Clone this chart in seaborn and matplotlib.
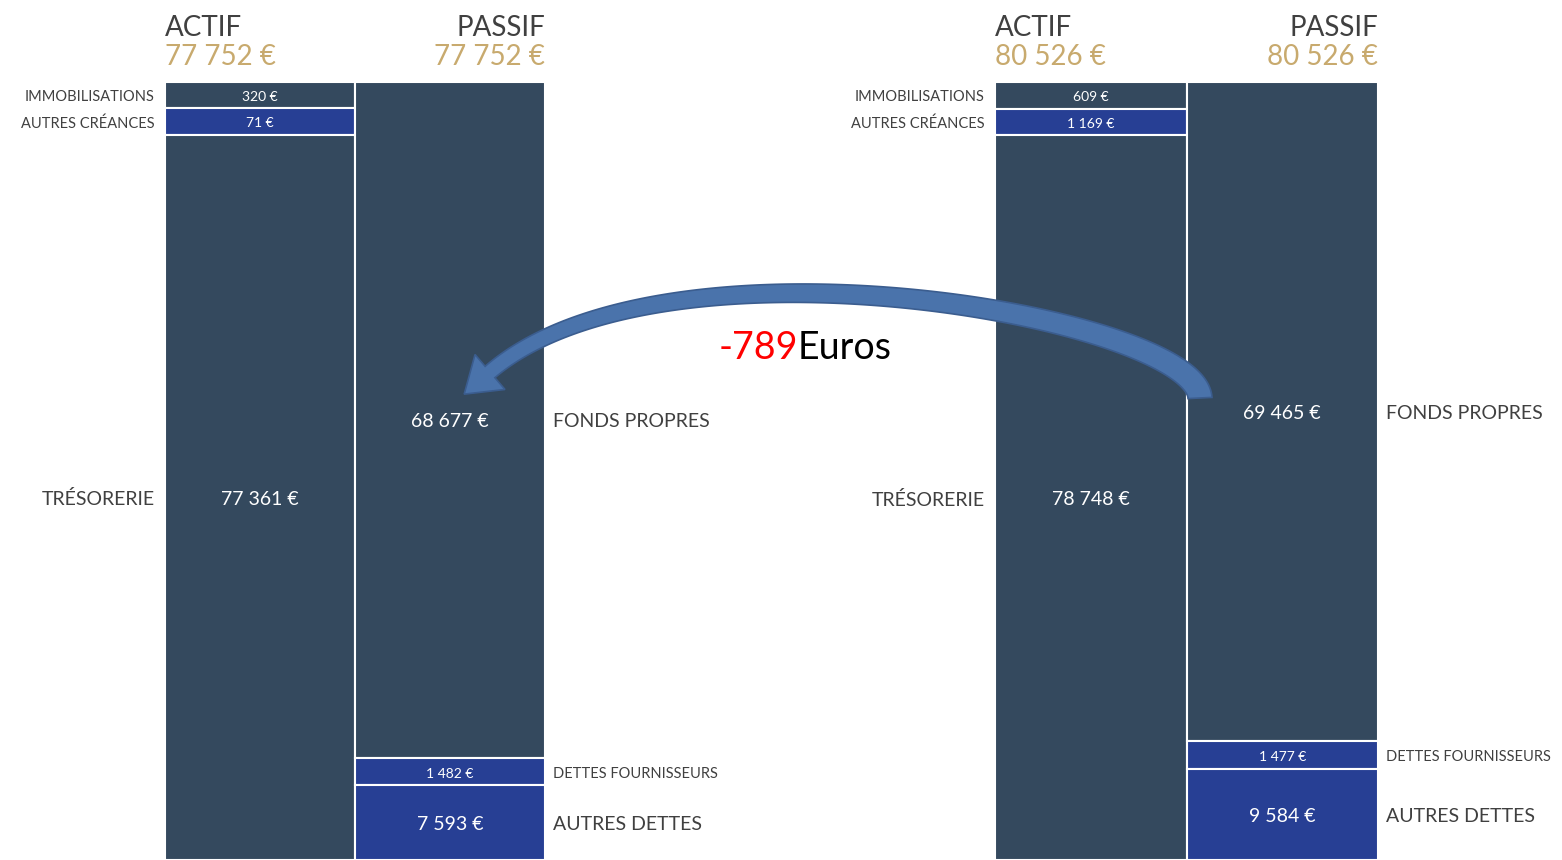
import matplotlib
matplotlib.use("Agg")
import numpy as np
import matplotlib.pyplot as plt
import seaborn as sns

# ---------------- data ----------------
actif_labels = ["IMMOBILISATIONS", "AUTRES CRÉANCES", "TRÉSORERIE"]
passif_labels = ["FONDS PROPRES", "DETTES FOURNISSEURS", "AUTRES DETTES"]
actif_left = [320, 71, 77361]
passif_left = [68677, 1482, 7593]
actif_right = [609, 1169, 78748]
passif_right = [69465, 1477, 9584]
totals = [77752, 80526]
variation = -789

# ---------------- style ----------------
sns.set_theme(style="white")
plt.rcParams['font.family'] = ['Lato', 'DejaVu Sans']

DARK = "#34495e"
BLUE = "#273f94"
GOLD = "#c8aa6e"
GREY = "#404040"
actif_colors = [DARK, BLUE, DARK]
passif_colors = [DARK, BLUE, BLUE]

W, H = 1562, 860
TOP, BOTTOM = 82, 860
SPAN = BOTTOM - TOP
FLOOR = 0.036  # minimum displayed share for tiny items
DY = 2  # small optical offset for text centring

fig = plt.figure(figsize=(W / 100, H / 100), dpi=100)
ax = fig.add_axes([0, 0, 1, 1])
ax.set_xlim(0, W)
ax.set_ylim(H, 0)
ax.axis("off")


def fmt(v):
    return f"{v:,}".replace(",", " ") + " €"


def display_heights(values):
    tot = sum(values)
    shares = [max(v / tot, FLOOR) for v in values]
    s = sum(shares)
    return [sh / s * SPAN for sh in shares], [v / tot < FLOOR for v in values]


def draw_column(xc, width, values, labels, colors, side):
    heights, small = display_heights(values)
    bottom = TOP
    for v, h, lab, col, sm in zip(values, heights, labels, colors, small):
        ax.bar(xc, h, bottom=bottom, width=width, color=col,
               edgecolor="white", linewidth=1.5, align="center", zorder=2)
        yc = bottom + h / 2 + DY
        ax.text(xc, yc, fmt(v), color="white", ha="center", va="center",
                fontsize=10 if sm else 14, zorder=3)
        if side == "left":
            ax.text(xc - width / 2 - 10, yc, lab, color=GREY, ha="right",
                    va="center", fontsize=10.5 if sm else 14)
        else:
            ax.text(xc + width / 2 + 8, yc, lab, color=GREY, ha="left",
                    va="center", fontsize=10.5 if sm else 14)
        bottom += h


def draw_sheet(x0, width, actif, passif, total):
    draw_column(x0 + width / 2, width, actif, actif_labels, actif_colors, "left")
    draw_column(x0 + width * 1.5, width, passif, passif_labels, passif_colors, "right")
    ax.text(x0, 36, "ACTIF", color=GREY, fontsize=20, ha="left", va="baseline")
    ax.text(x0 + 2 * width, 36, "PASSIF", color=GREY, fontsize=20, ha="right", va="baseline")
    ax.text(x0, 65, fmt(total), color=GOLD, fontsize=20, ha="left", va="baseline")
    ax.text(x0 + 2 * width, 65, fmt(total), color=GOLD, fontsize=20, ha="right", va="baseline")


draw_sheet(165, 190, actif_left, passif_left, totals[0])
draw_sheet(995, 191.5, actif_right, passif_right, totals[1])

# ---------------- curved tapered arrow ----------------
P = np.array([(1200, 398), (1196, 318), (665, 222), (490, 372)], dtype=float)
t = np.linspace(0, 1, 160)[:, None]
B = ((1 - t) ** 3) * P[0] + 3 * ((1 - t) ** 2) * t * P[1] + 3 * (1 - t) * t ** 2 * P[2] + t ** 3 * P[3]
dB = 3 * ((1 - t) ** 2) * (P[1] - P[0]) + 6 * (1 - t) * t * (P[2] - P[1]) + 3 * t ** 2 * (P[3] - P[2])
T = dB / np.linalg.norm(dB, axis=1, keepdims=True)
N = np.column_stack([-T[:, 1], T[:, 0]])
w = (24 - 9 * t[:, 0])[:, None]
left = B + N * w / 2
right = B - N * w / 2
E, T1, N1 = B[-1], T[-1], N[-1]
tip = E + T1 * 34
wing_l = E + N1 * 23
wing_r = E - N1 * 23
poly = np.vstack([left, wing_l, tip, wing_r, right[::-1]])
ax.fill(poly[:, 0], poly[:, 1], facecolor="#4a73ab", edgecolor="#3b5d8f",
        linewidth=1.2, zorder=5, joinstyle="miter")

ax.text(798, 359, f"{variation}", color="#ff0000", fontsize=27, ha="right", va="baseline", zorder=6)
ax.text(798, 359, "Euros", color="black", fontsize=27, ha="left", va="baseline", zorder=6)

fig.savefig("out.png", dpi=100)
